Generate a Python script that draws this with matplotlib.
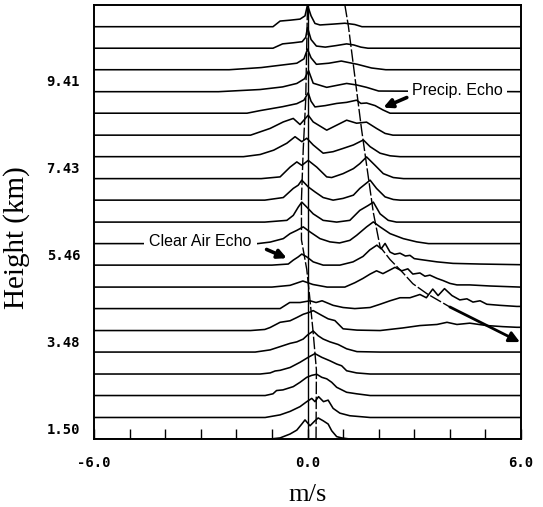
import numpy as np
import matplotlib
matplotlib.use("Agg")
import matplotlib.pyplot as plt

# ---------------- data ----------------
heights_km = [1.50, 1.99, 2.49, 2.98, 3.48, 3.97, 4.47, 4.96, 5.46, 5.95,
              6.44, 6.94, 7.43, 7.93, 8.42, 8.92, 9.41, 9.91, 10.40, 10.89]
height_tick_labels = ["1.50", "3.48", "5.46", "7.43", "9.41"]
height_ticks = [1.50, 3.48, 5.46, 7.43, 9.41]
vel_ticks = [-6.0, 0.0, 6.0]
vel_tick_labels = ["-6.0", "0.0", "6.0"]

# normalised Doppler spectra (power relative to gate spacing), bottom gate first
g00_vel = [-6, -1.05, -0.77, -0.49, -0.3, -0.16, -0.07, 0.07, 0.21, 0.3, 0.44, 0.58, 0.68, 0.82, 0.96, 1.19, 6]
g00_pow = [0, 0, 0.05, 0.23, 0.41, 0.69, 0.88, 0.61, 0.84, 0.97, 0.84, 0.69, 0.38, 0.11, 0.05, 0, 0]
g01_vel = [-6, -1.19, -0.77, -0.49, -0.21, -0.02, 0.12, 0.21, 0.31, 0.45, 0.58, 0.72, 0.91, 1.19, 1.76, 6]
g01_pow = [0, 0, 0.12, 0.28, 0.5, 0.73, 0.88, 0.73, 0.96, 0.73, 0.8, 0.42, 0.2, 0.08, 0, 0]
g02_vel = [-6, -1.19, -0.97, -0.87, -0.69, -0.4, -0.21, -0.02, 0.12, 0.26, 0.4, 0.54, 0.68, 0.82, 1.1, 1.38, 1.76, 6]
g02_pow = [0, 0, 0.08, 0.23, 0.26, 0.41, 0.61, 0.84, 0.93, 0.98, 0.84, 0.77, 0.61, 0.38, 0.15, 0.08, 0, 0]
g03_vel = [-6, -1.33, -1.05, -0.91, -0.77, -0.49, -0.21, 0.02, 0.21, 0.4, 0.63, 0.82, 0.96, 1.1, 1.38, 1.76, 6]
g03_pow = [0, 0, 0.05, 0.14, 0.17, 0.3, 0.54, 0.77, 0.94, 0.77, 0.61, 0.46, 0.38, 0.15, 0.05, 0, 0]
g04_vel = [-6, -1.47, -1.05, -0.77, -0.49, -0.3, -0.12, 0.01, 0.16, 0.3, 0.44, 0.63, 0.86, 1.1, 1.39, 2.04, 6]
g04_pow = [0, 0, 0.1, 0.25, 0.4, 0.47, 0.6, 0.8, 0.97, 0.75, 0.6, 0.47, 0.35, 0.15, 0.02, 0, 0]
g05_vel = [-6, -1.6, -1.2, -1.05, -0.77, -0.49, -0.3, -0.12, 0.07, 0.16, 0.4, 0.58, 0.77, 1.0, 1.39, 2.04,
           2.68, 3.16, 3.64, 3.92, 4.2, 4.56, 5.04, 5.49, 5.88, 6.0]
g05_pow = [0, 0, 0.05, 0.14, 0.38, 0.45, 0.6, 0.75, 0.85, 0.92, 0.7, 0.54, 0.46, 0.08, 0.02, 0.0,
           0.12, 0.23, 0.28, 0.38, 0.28, 0.34, 0.23, 0.18, 0.15, 0.15]
g06_vel = [-6, -0.77, -0.5, -0.21, 0.07, 0.24, 0.41, 0.72, 1.0, 1.33, 1.76, 2.04, 2.32, 2.6, 2.88, 3.16,
           3.34, 3.52, 3.67, 3.85, 4.06, 4.28, 4.48, 4.65, 4.85, 5.04, 5.41, 5.88, 6.0]
g06_pow = [0, 0, 0.28, 0.28, 0.36, 0.28, 0.36, 0.15, 0.05, 0.0, 0.05, 0.2, 0.36, 0.5, 0.5, 0.65,
           0.5, 0.9, 0.6, 0.92, 0.6, 0.4, 0.45, 0.3, 0.36, 0.2, 0.15, 0.1, 0.1]
g07_vel = [-6, -1.0, -0.49, -0.13, 0.15, 0.55, 1.05, 1.33, 1.56, 1.76, 1.94, 2.12, 2.46, 2.65, 2.82, 2.96,
           3.16, 3.3, 3.44, 3.64, 3.81, 4.0, 4.2, 4.56, 5.13, 5.97]
g07_pow = [0, 0, 0.08, 0.28, 0.12, 0.0, 0.0, 0.2, 0.4, 0.6, 0.75, 0.62, 0.91, 0.75, 0.84, 0.6,
           0.65, 0.5, 0.55, 0.4, 0.3, 0.17, 0.1, 0.1, 0.05, 0.0]
g08_vel = [-6, -1.0, -0.54, -0.4, -0.26, -0.16, -0.02, 0.16, 0.44, 0.91, 1.28, 1.56, 1.75, 1.95, 2.07, 2.18,
           2.32, 2.45, 2.6, 2.75, 2.88, 3.0, 3.16, 3.64, 4.09, 4.85, 5.97]
g08_pow = [0, 0, 0.05, 0.23, 0.38, 0.51, 0.38, 0.15, 0.0, 0.0, 0.15, 0.4, 0.7, 0.92, 0.75, 1.0,
           0.6, 0.5, 0.55, 0.42, 0.45, 0.3, 0.26, 0.15, 0.08, 0.05, 0.02]
g09_vel = [-6, -1.4, -1.05, -0.68, -0.49, -0.3, -0.12, 0.07, 0.35, 0.63, 0.9, 1.19, 1.38, 1.66, 1.85, 2.04,
           2.32, 2.69, 3.07, 3.4, 6]
g09_pow = [0, 0, 0.07, 0.23, 0.46, 0.61, 0.77, 0.54, 0.23, 0.08, 0.03, 0.15, 0.38, 0.77, 1.0, 0.77,
           0.46, 0.23, 0.08, 0, 0]
g10_vel = [-6, -1.2, -0.58, -0.4, -0.26, -0.16, -0.02, 0.16, 0.44, 0.82, 1.19, 1.47, 1.71, 1.85, 2.04,
           2.27, 2.5, 6]
g10_pow = [0, 0, 0.08, 0.31, 0.69, 0.92, 0.69, 0.38, 0.08, 0, 0.08, 0.54, 0.77, 0.92, 0.38,
           0.08, 0, 0]
g11_vel = [-6, -1.2, -0.68, -0.4, -0.26, -0.16, 0.02, 0.21, 0.44, 0.72, 1.0, 1.29, 1.47, 1.76, 1.94,
           2.18, 2.41, 2.6, 6]
g11_pow = [0, 0, 0.12, 0.54, 0.69, 0.92, 0.61, 0.38, 0.12, 0, 0.08, 0.23, 0.54, 0.92, 0.54,
           0.15, 0.03, 0, 0]
g12_vel = [-6, -1.3, -0.77, -0.49, -0.3, -0.16, 0.02, 0.26, 0.54, 0.68, 1.0, 1.29, 1.47, 1.66, 1.9,
           2.13, 2.41, 2.7, 6]
g12_pow = [0, 0, 0.08, 0.53, 0.77, 0.61, 0.84, 0.53, 0.08, 0.05, 0.23, 0.46, 0.69, 1.0, 0.61,
           0.23, 0.05, 0, 0]
g13_vel = [-6, -1.8, -1.33, -0.95, -0.58, -0.35, -0.16, -0.02, 0.16, 0.44, 0.72, 1.0, 1.29, 1.57, 1.76,
           2.04, 2.32, 2.6, 6]
g13_pow = [0, 0, 0.1, 0.3, 0.62, 0.92, 0.69, 0.85, 0.54, 0.16, 0.23, 0.38, 0.54, 0.77, 0.46,
           0.16, 0.04, 0, 0]
g14_vel = [-6, -1.6, -1.05, -0.68, -0.4, -0.21, 0.02, 0.16, 0.54, 0.82, 1.1, 1.38, 1.66, 1.94, 2.18, 2.4, 6]
g14_pow = [0, 0, 0.31, 0.61, 0.77, 0.49, 0.92, 0.61, 0.23, 0.46, 0.69, 0.55, 0.6, 0.31, 0.08, 0, 0]
g15_vel = [-6, -1.7, -1.33, -1.05, -0.7, -0.3, -0.1, 0.02, 0.1, 0.21, 0.5, 0.82, 1.1, 1.38, 1.5, 1.66,
           1.9, 2.12, 2.32, 6]
g15_pow = [0, 0, 0.12, 0.2, 0.3, 0.44, 0.6, 0.94, 0.55, 0.29, 0.35, 0.45, 0.5, 0.6, 0.45, 0.47,
           0.35, 0.15, 0, 0]
g16_vel = [-6, -2.5, -1.33, -0.7, -0.3, -0.08, 0.03, 0.16, 0.54, 1.1, 1.38, 1.66, 2.0, 6]
g16_pow = [0, 0, 0.1, 0.22, 0.38, 0.6, 0.97, 0.39, 0.2, 0.38, 0.31, 0.2, 0.03, 0]
g17_vel = [-6, -2.2, -1.3, -0.8, -0.3, -0.1, 0.0, 0.1, 0.25, 0.6, 0.95, 1.4, 1.8, 2.2, 6]
g17_pow = [0, 0, 0.1, 0.2, 0.3, 0.5, 0.95, 0.55, 0.25, 0.3, 0.4, 0.25, 0.08, 0, 0]
g18_vel = [-6, -0.97, -0.7, -0.4, -0.15, -0.05, 0.0, 0.1, 0.25, 0.5, 0.8, 1.1, 1.3, 1.5, 1.7, 6]
g18_pow = [0, 0, 0.2, 0.25, 0.3, 0.5, 0.95, 0.4, 0.1, 0.05, 0.12, 0.2, 0.15, 0.05, 0, 0]
g19_vel = [-6.0, -0.97, -0.77, -0.49, -0.21, -0.07, 0.0, 0.1, 0.21, 0.35, 0.72, 1.05, 1.33, 1.53, 6.0]
g19_pow = [0, 0, 0.26, 0.30, 0.35, 0.5, 1.0, 0.5, 0.15, 0.08, 0.12, 0.16, 0.10, 0, 0]

spectra_vel = [g00_vel, g01_vel, g02_vel, g03_vel, g04_vel, g05_vel, g06_vel, g07_vel, g08_vel, g09_vel,
               g10_vel, g11_vel, g12_vel, g13_vel, g14_vel, g15_vel, g16_vel, g17_vel, g18_vel, g19_vel]
spectra_pow = [g00_pow, g01_pow, g02_pow, g03_pow, g04_pow, g05_pow, g06_pow, g07_pow, g08_pow, g09_pow,
               g10_pow, g11_pow, g12_pow, g13_pow, g14_pow, g15_pow, g16_pow, g17_pow, g18_pow, g19_pow]

# traced echo centres (velocity m/s, height km)
clear_trace_vel = [0.24, 0.25, 0.16, 0.07, -0.02, -0.17, -0.17, -0.12, -0.05, 0.0]
clear_trace_hgt = [1.25, 2.83, 3.67, 4.42, 5.11, 5.79, 6.70, 7.845, 8.985, 11.14]
precip_trace_vel = [1.05, 1.15, 1.33, 1.52, 1.66, 1.85, 2.04, 2.32, 2.68, 2.96, 3.36, 4.0]
precip_trace_hgt = [11.14, 10.65, 9.51, 8.30, 7.50, 6.41, 5.63, 5.34, 5.04, 4.79, 4.56, 4.26]
precip_arrow_vel = [4.0, 5.97]
precip_arrow_hgt = [4.26, 3.46]

# ---------------- figure ----------------
W, H = 543, 507
fig = plt.figure(figsize=(W / 100, H / 100), dpi=100)
ax = fig.add_axes([94 / W, 1 - 439 / H, (521 - 94) / W, (439 - 5) / H])

gate = (heights_km[-1] - heights_km[0]) / (len(heights_km) - 1)
half = gate / 2

for h, v, p in zip(heights_km, spectra_vel, spectra_pow):
    base = h - half
    ax.plot(v, base + np.asarray(p) * gate, color="black", lw=1.15, solid_joinstyle="round", zorder=3)

# zero velocity line
ax.axvline(0.0, color="black", lw=1.0, zorder=3)

# traces
ax.plot(clear_trace_vel, clear_trace_hgt, color="black", lw=1.0, dashes=(9, 1.8), zorder=4)
ax.plot(precip_trace_vel, precip_trace_hgt, color="black", lw=1.0, dashes=(9, 1.8), zorder=4)
ax.annotate("", xy=(precip_arrow_vel[1], precip_arrow_hgt[1]),
            xytext=(precip_arrow_vel[0], precip_arrow_hgt[0]),
            arrowprops=dict(arrowstyle="-|>", color="black", lw=2.0, mutation_scale=16,
                            shrinkA=0, shrinkB=0), zorder=5, annotation_clip=False)

# annotations
lab_font = dict(family="Liberation Sans", size=11.5, color="black")
ax.text(-3.01, 5.74, "Clear Air Echo", ha="center", va="center", zorder=6,
        bbox=dict(facecolor="white", edgecolor="none", boxstyle="square,pad=0.35"), **lab_font)
ax.text(4.21, 9.19, "Precip. Echo", ha="center", va="center", zorder=6,
        bbox=dict(facecolor="white", edgecolor="none", boxstyle="square,pad=0.25"), **lab_font)
ax.annotate("", xy=(-0.58, 5.37), xytext=(-1.15, 5.57),
            arrowprops=dict(arrowstyle="-|>", color="black", lw=2.6, mutation_scale=13,
                            shrinkA=0, shrinkB=0), zorder=7)
ax.annotate("", xy=(2.13, 8.80), xytext=(2.79, 9.03),
            arrowprops=dict(arrowstyle="-|>", color="black", lw=2.6, mutation_scale=13,
                            shrinkA=0, shrinkB=0), zorder=7)

# axes styling
ax.set_xlim(-6, 6)
ax.set_ylim(heights_km[0] - half, heights_km[-1] + half)
for s in ax.spines.values():
    s.set_linewidth(1.4)
ax.set_xticks(vel_ticks)
ax.set_xticklabels(vel_tick_labels)
ax.set_xticks(np.arange(-5, 6, 1.0), minor=True)
ax.tick_params(axis="x", which="both", direction="in", length=7, width=1.0, pad=12)
ax.set_yticks(height_ticks)
ax.set_yticklabels(height_tick_labels)
ax.tick_params(axis="y", which="both", length=0, pad=10)
for lab in ax.get_xticklabels() + ax.get_yticklabels():
    lab.set_family("DejaVu Sans Mono")
    lab.set_fontsize(10)
    lab.set_fontweight("bold")

fig.text(308 / W, 1 - 495 / H, "m/s", ha="center", va="center",
         family="Liberation Serif", fontsize=19)
fig.text(17 / W, 1 - 238 / H, "Height (km)", ha="center", va="center", rotation=90,
         family="Liberation Serif", fontsize=21)

fig.savefig("out.png", dpi=100, facecolor="white")
